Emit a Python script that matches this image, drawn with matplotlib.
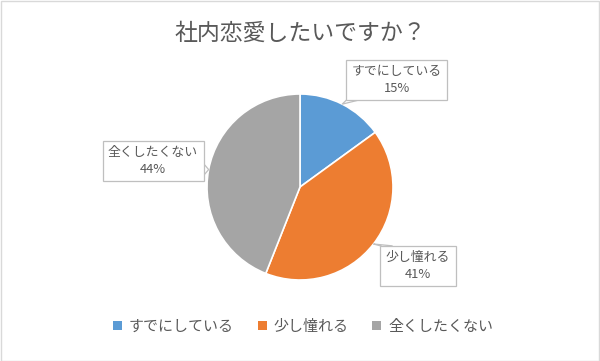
import numpy as np
import matplotlib
matplotlib.use('Agg')
import matplotlib.pyplot as plt
from matplotlib.patches import Rectangle, Polygon

plt.rcParams['font.family'] = ['Noto Sans CJK JP', 'DejaVu Sans']

# data
categories = ['すでにしている', '少し憧れる', '全くしたくない']
values = [15, 41, 44]
colors = ['#5B9BD5', '#ED7D31', '#A5A5A5']
title = '社内恋愛したいですか？'

# where the callout boxes sit (data coords of the pie, radius 1)
box_pos = [(1.04, 1.15), (1.27, -0.85), (-1.58, 0.28)]

txt_color = '#595959'
line_color = '#bfbfbf'

fig = plt.figure(figsize=(6, 3.61), dpi=100)
# pie axes: centre (300,187) px, radius 93 px
ax = fig.add_axes([(300 - 93) / 600, (361 - 187 - 93) / 361, 186 / 600, 186 / 361])

wedges, _ = ax.pie(values, colors=colors, startangle=90, counterclock=False,
                   radius=1, wedgeprops=dict(edgecolor='white', linewidth=1.2))
ax.set_xlim(-1, 1)
ax.set_ylim(-1, 1)
ax.set_aspect('equal')
ax.axis('off')

total = sum(values)
labels = []
tips = []
for w, name, v, pos in zip(wedges, categories, values, box_pos):
    mid = np.deg2rad((w.theta1 + w.theta2) / 2)
    tips.append((np.cos(mid), np.sin(mid)))
    t = ax.text(pos[0], pos[1], f'{name}\n{round(v / total * 100)}%',
                ha='center', va='center', fontsize=9.3, color=txt_color,
                linespacing=1.35, zorder=5,
                bbox=dict(boxstyle='square,pad=0.42', fc='white', ec=line_color, lw=0.9))
    labels.append(t)

fig.canvas.draw()
r = fig.canvas.get_renderer()
to_data = ax.transData.inverted()

# callout tails: a thin triangle from the box edge to the slice
for t, tip in zip(labels, tips):
    bb = t.get_bbox_patch().get_window_extent(r)
    tx, ty = ax.transData.transform(tip)
    cx = min(max(tx, bb.x0), bb.x1)
    cy = min(max(ty, bb.y0), bb.y1)
    half = 6
    if cx in (bb.x0, bb.x1) and bb.y0 < cy < bb.y1:
        # on a vertical edge
        cy = min(max(cy, bb.y0 + half), bb.y1 - half)
        base = [(cx, cy - half), (cx, cy + half)]
        inner = [(cx + (3 if cx == bb.x0 else -3), cy)]
    else:
        cx = min(max(cx, bb.x0 + half), bb.x1 - half)
        base = [(cx - half, cy), (cx + half, cy)]
        inner = [(cx, cy + (3 if cy == bb.y0 else -3))]
    pts = to_data.transform([base[0], (tx, ty), base[1]] + inner)
    ax.add_patch(Polygon(pts, closed=True, fc='white', ec=line_color, lw=0.9,
                         zorder=4, clip_on=False))

fig.text(0.5, (361 - 33) / 361, title, ha='center', va='center',
         fontsize=16.5, color=txt_color)

leg = fig.legend(wedges, categories, loc='center', ncol=3,
                 bbox_to_anchor=(0.505, (361 - 327) / 361), frameon=False,
                 fontsize=10.8, handlelength=0.6, handleheight=0.6,
                 handletextpad=0.45, columnspacing=1.6)
for t in leg.get_texts():
    t.set_color(txt_color)
for h in leg.legend_handles:
    h.set_edgecolor('none')

fig.patches.append(Rectangle((0.001, 0.001), 0.997, 0.996, transform=fig.transFigure,
                             fill=False, ec='#d9d9d9', lw=1))

fig.savefig('out.png', dpi=100)
